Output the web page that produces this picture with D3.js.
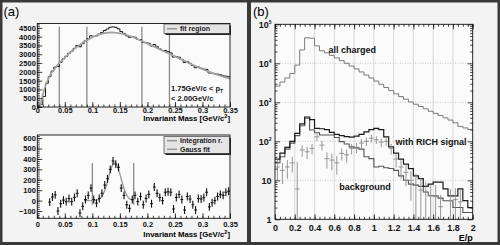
<!DOCTYPE html>
<html>
<head>
<meta charset="utf-8">
<script src="https://cdn.jsdelivr.net/npm/d3@7"></script>
<style>
  body { margin: 0; background: #fff; }
  svg { display: block; font-family: "Liberation Sans", Arial, sans-serif; }
  .tick text { font-weight: bold; fill: #111; }
</style>
</head>
<body>
<div id="container"></div>
<script>
// ---------- (a) invariant mass, 1.75 < pT < 2.00 GeV/c ----------
const massBin = 0.005;
const massTicks = [0, 0.05, 0.1, 0.15, 0.2, 0.25, 0.3, 0.35];
const countTicks = [0, 500, 1000, 1500, 2000, 2500, 3000, 3500, 4000, 4500];
const residTicks = [-100, 0, 100, 200, 300, 400, 500, 600];

// histogram, bins of 0.005 starting at 0
const massHist = [0, 150, 600, 1350, 1730, 2040, 2270, 2300, 2540, 2740,
                  2880, 3055, 3165, 3335, 3500, 3425, 3600, 3765, 3895, 4050,
                  4015, 4045, 4145, 4240, 4355, 4435, 4535, 4560, 4530, 4450,
                  4290, 4185, 4050, 3965, 3995, 3970, 3845, 3825, 3675, 3660,
                  3630, 3470, 3555, 3425, 3310, 3210, 3220, 3150, 3075, 2840,
                  2875, 2830, 2705, 2530, 2585, 2485, 2355, 2235, 2275, 2205,
                  2155, 2140, 1940, 1920, 1885, 1870, 1835, 1775, 1755, 1720];

// background fit, sampled at 0.005 ... 0.35
const massFit = [0, 700, 1220, 1600, 1890, 2120, 2315, 2490, 2655, 2813,
                 2963, 3106, 3242, 3370, 3490, 3602, 3706, 3802, 3890, 3969,
                 4039, 4099, 4149, 4189, 4217, 4233, 4238, 4231, 4213, 4188,
                 4156, 4116, 4068, 4013, 3953, 3888, 3820, 3750, 3678, 3606,
                 3534, 3462, 3390, 3318, 3246, 3174, 3102, 3030, 2955, 2880,
                 2805, 2730, 2655, 2580, 2505, 2430, 2358, 2288, 2220, 2155,
                 2092, 2030, 1970, 1912, 1856, 1802, 1750, 1700, 1652, 1606];
const fitRegion = [0.04, 0.09, 0.19, 0.24];
const fitLineTop = 4560;

// subtracted signal, bins of 0.005 starting at 0.02
const residFirst = 0.02;
const residuals = [-15, 35, 55, -100, -30, 5, -10, 20, -10, 30,
                   70, -120, -55, 10, 50, 120, 10, -25, 20, 70,
                   150, 210, 300, 380, 350, 320, 120, 50, -40, -75,
                   10, 50, -10, 40, -40, 20, 60, -30, 130, 70,
                   30, 0, 80, 85, 80, -80, 30, 60, 10, -90,
                   40, 15, -40, -90, 20, 15, 30, 80, -60, -20,
                   0, 40, 60, 50, 80, 90];
const residErr = 38;
const gaussFirst = 0.085;
const gaussFit = [0, 0, 0, 0, 2, 8, 25, 65, 135, 230, 320, 365, 335, 255, 160, 80, 32, 10, 2];
const intRegion = [0.1, 0.175];
const intLineSpan = [-40, 360];

// ---------- (b) E/p ----------
const epBin = 0.05;
const epTicks = [0, 0.2, 0.4, 0.6, 0.8, 1, 1.2, 1.4, 1.6, 1.8, 2];
const decadeTicks = [1, 10, 100, 1000, 10000, 100000];
const allCharged = [2600, 3300, 4200, 5500, 9000, 22000, 45000, 44000, 28000, 21000,
                    18500, 16000, 13800, 11700, 10000, 8500, 7200, 6000, 5000, 4200,
                    3500, 2900, 2400, 2000, 1650, 1400, 1200, 1020, 890, 780,
                    680, 590, 520, 460, 400, 350, 300, 240, 220, 200];
const richSignal = [35, 50, 70, 100, 160, 280, 420, 360, 215, 210,
                    200, 170, 150, 140, 132, 128, 135, 150, 175, 200,
                    215, 200, 130, 72, 50, 35, 26, 20, 13, 11,
                    7, 8, 9, 9, 6, 4, 4, 6, 3, 2];
const richLow = [28, 40, 63, 90, 140, 250, 390, 195, 165, 145,
                 145, 145, 125, 98, 85, 72, 68, 63, 40, 36,
                 22, 23, 21, 20, 18, 13, 10, 8, 7.5, 7,
                 5, 4, 4, 3.5, 3, 3, 2, 2, 1.5, 1.5];
const background = [22, 18, 22, 28, 6, 60, 54, 66, 130, 80,
                    36, 33, 28, 49, 45, 66, 70, 90, 100, 120,
                    110, 95, 100, 66, 35, 22, 16, 10, 7.6, 5.6,
                    5, 4, 3.8, 2.1, 0, 3, 3.2, 2.8, 0, 0];
const backgroundErr = [12, 10, 11, 12, 24, 20, 19, 20, 28, 22,
                       16, 15, 14, 17, 17, 20, 20, 23, 24, 26,
                       25, 24, 24, 20, 14, 11, 9, 7, 7, 5.6,
                       4, 3.5, 3.8, 2.1, 0, 3, 3, 2.8, 0, 0];

const WIDTH = 500;
const HEIGHT = 245;
const PANEL_BG = '#f3f3f3';
const PLOT_BG = '#fbfbfb';

const svg = d3.select('#container')
              .append('svg')
                .attr('width', WIDTH)
                .attr('height', HEIGHT);

svg.append('rect').attr('width', WIDTH).attr('height', HEIGHT).attr('fill', '#3a3a3a');
svg.append('rect').attr('x', 2.5).attr('y', 2.5).attr('width', 244.5).attr('height', 239.5).attr('fill', PANEL_BG);
svg.append('rect').attr('x', 251).attr('y', 2.5).attr('width', 246.5).attr('height', 239.5).attr('fill', PANEL_BG);

svg.append('text').attr('x', 3.5).attr('y', 16).attr('font-size', 13).text('(a)');
svg.append('text').attr('x', 253).attr('y', 16).attr('font-size', 13).text('(b)');

const fmtMass = d => d === 0 ? '0' : String(+d.toFixed(2));
const noDomain = a => a.select('.domain').remove();

const stepLine = (values, x0, w, xs, ys) => {
    const pts = values.map((v, i) => [x0 + i * w, v]);
    pts.push([x0 + values.length * w, values[values.length - 1]]);
    return d3.line().x(d => xs(d[0])).y(d => ys(d[1])).curve(d3.curveStepAfter)(pts);
};

// ---------- panel (a) ----------
const xMass = d3.scaleLinear().domain([0, 0.35]).range([37.3, 230]);
const yTop = d3.scaleLinear().domain([0, 4750]).range([107, 23.5]);
const yBot = d3.scaleLinear().domain([-170, 630]).range([218.3, 135]);

function massPad(y, yTicks, yMinorStep, labelY, titleY) {
    const g = svg.append('g');
    const [y0, y1] = y.range();
    const [x0, x1] = xMass.range();
    g.append('rect')
       .attr('x', x0).attr('y', y1)
       .attr('width', x1 - x0).attr('height', y0 - y1)
       .attr('fill', PLOT_BG);
    const body = g.append('g');

    const [d0, d1] = y.domain();
    const minor = d3.range(Math.ceil(d0 / yMinorStep) * yMinorStep, d1, yMinorStep);
    const deco = g.append('g');
    deco.append('g')
        .attr('transform', `translate(0,${y0})`)
        .call(d3.axisBottom(xMass).tickValues(d3.range(0, 0.3501, 0.01)).tickSize(-2.5).tickFormat(''))
        .call(noDomain);
    deco.append('g')
        .attr('transform', `translate(0,${y0})`)
        .call(d3.axisBottom(xMass).tickValues(massTicks).tickSize(-5).tickFormat(fmtMass))
        .call(noDomain)
        .call(a => a.selectAll('text').attr('y', labelY - y0).attr('dy', 0).attr('font-size', 7.5));
    deco.append('g')
        .attr('transform', `translate(${x0},0)`)
        .call(d3.axisLeft(y).tickValues(minor).tickSize(-2.5).tickFormat(''))
        .call(noDomain);
    deco.append('g')
        .attr('transform', `translate(${x0},0)`)
        .call(d3.axisLeft(y).tickValues(yTicks).tickSize(-5).tickPadding(1.5).tickFormat(d3.format('d')))
        .call(noDomain)
        .call(a => a.selectAll('text').attr('font-size', 7.5));
    deco.selectAll('.tick line').attr('stroke', '#111').attr('stroke-width', 0.8);
    deco.append('rect')
        .attr('x', x0).attr('y', y1)
        .attr('width', x1 - x0).attr('height', y0 - y1)
        .attr('fill', 'none').attr('stroke', '#111').attr('stroke-width', 0.9);

    const t = deco.append('text')
                  .attr('x', x1).attr('y', titleY)
                  .attr('text-anchor', 'end')
                  .attr('font-size', 7.8).attr('font-weight', 'bold');
    t.append('tspan').text('Invariant Mass [GeV/c');
    t.append('tspan').attr('dy', -2.8).attr('font-size', 5.5).text('2');
    t.append('tspan').attr('dy', 2.8).text(']');
    return { body, deco };
}

function legend(g, x, y, w, h, entries) {
    g.append('rect').attr('x', x + 1.5).attr('y', y + 1.5).attr('width', w).attr('height', h).attr('fill', '#222');
    g.append('rect').attr('x', x).attr('y', y).attr('width', w).attr('height', h)
     .attr('fill', '#e4e4e4').attr('stroke', '#222').attr('stroke-width', 0.6);
    entries.forEach((e, i) => {
        const cy = y + h * (i + 0.5) / entries.length;
        g.append('line').attr('x1', x + 3).attr('x2', x + 13).attr('y1', cy).attr('y2', cy)
         .attr('stroke', '#8c8c8c').attr('stroke-width', 1.3);
        g.append('text').attr('x', x + 16).attr('y', cy + 2.4)
         .attr('font-size', 7).attr('font-weight', 'bold').attr('fill', '#222').text(e);
    });
}

// top: invariant mass with fit
const topPad = massPad(yTop, countTicks, 100, 112.6, 121);

topPad.body.selectAll(null)
   .data(fitRegion)
   .enter()
   .append('line')
     .attr('x1', d => xMass(d)).attr('x2', d => xMass(d))
     .attr('y1', yTop(0)).attr('y2', yTop(fitLineTop))
     .attr('stroke', '#8a8a8a').attr('stroke-width', 1.3);

topPad.body.append('path')
   .attr('d', stepLine(massHist, 0, massBin, xMass, yTop))
   .attr('fill', 'none').attr('stroke', '#111').attr('stroke-width', 1);

topPad.body.append('path')
   .attr('d', d3.line()
                .x((d, i) => xMass(massBin * (i + 1)))
                .y(d => yTop(d))
                .curve(d3.curveMonotoneX)(massFit))
   .attr('fill', 'none').attr('stroke', '#a3a3a3').attr('stroke-width', 1.8);

legend(topPad.deco, 164, 24, 65.5, 9.5, ['fit region']);

const ptText = topPad.deco.append('text').attr('x', 171).attr('y', 91)
                  .attr('font-size', 7.5).attr('font-weight', 'bold').attr('fill', '#111');
ptText.append('tspan').text('1.75GeV/c < p');
ptText.append('tspan').attr('dy', 2).attr('font-size', 5).text('T');
topPad.deco.append('text').attr('x', 171).attr('y', 101)
   .attr('font-size', 7.5).attr('font-weight', 'bold').attr('fill', '#111')
   .text('< 2.00GeV/c');

// bottom: background subtracted
const botPad = massPad(yBot, residTicks, 20, 227.3, 236.8);

botPad.body.selectAll(null)
   .data(intRegion)
   .enter()
   .append('line')
     .attr('x1', d => xMass(d)).attr('x2', d => xMass(d))
     .attr('y1', yBot(intLineSpan[0])).attr('y2', yBot(intLineSpan[1]))
     .attr('stroke', '#8a8a8a').attr('stroke-width', 1.3);

botPad.body.append('path')
   .attr('d', d3.line()
                .x((d, i) => xMass(gaussFirst + massBin * i))
                .y(d => yBot(d))
                .curve(d3.curveMonotoneX)(gaussFit))
   .attr('fill', 'none').attr('stroke', '#9a9a9a').attr('stroke-width', 1.3);

const residPts = residuals.map((v, i) => ({ x: residFirst + massBin * (i + 0.5), v }));
botPad.body.selectAll(null)
   .data(residPts)
   .enter()
   .append('line')
     .attr('x1', d => xMass(d.x)).attr('x2', d => xMass(d.x))
     .attr('y1', d => yBot(d.v - residErr)).attr('y2', d => yBot(d.v + residErr))
     .attr('stroke', '#111').attr('stroke-width', 1.1);
botPad.body.selectAll(null)
   .data(residPts)
   .enter()
   .append('line')
     .attr('x1', d => xMass(d.x - massBin / 2)).attr('x2', d => xMass(d.x + massBin / 2))
     .attr('y1', d => yBot(d.v)).attr('y2', d => yBot(d.v))
     .attr('stroke', '#111').attr('stroke-width', 1.1);

legend(botPad.deco, 164, 136.5, 65.5, 17, ['Integration r.', 'Gauss fit']);

// ---------- panel (b) ----------
const xEp = d3.scaleLinear().domain([0, 2]).range([275, 472.7]);
const yEp = d3.scaleLog().domain([1, 1e5]).range([219.3, 24.3]).clamp(true);
const [bx0, bx1] = xEp.range();
const [by0, by1] = yEp.range();

const pb = svg.append('g');
pb.append('rect')
  .attr('x', bx0).attr('y', by1)
  .attr('width', bx1 - bx0).attr('height', by0 - by1)
  .attr('fill', PLOT_BG);

pb.selectAll(null)
  .data(epTicks.slice(1, -1))
  .enter()
  .append('line')
    .attr('x1', d => xEp(d)).attr('x2', d => xEp(d))
    .attr('y1', by0).attr('y2', by1)
    .attr('stroke', '#cfcfcf').attr('stroke-width', 0.8);
pb.selectAll(null)
  .data(decadeTicks.slice(1, -1))
  .enter()
  .append('line')
    .attr('x1', bx0).attr('x2', bx1)
    .attr('y1', d => yEp(d)).attr('y2', d => yEp(d))
    .attr('stroke', '#bdbdbd').attr('stroke-width', 0.8)
    .attr('stroke-dasharray', '1,1.5');

pb.append('path')
  .attr('d', stepLine(allCharged, 0, epBin, xEp, yEp))
  .attr('fill', 'none').attr('stroke', '#7a7a7a').attr('stroke-width', 1);
pb.append('path')
  .attr('d', stepLine(richLow, 0, epBin, xEp, yEp))
  .attr('fill', 'none').attr('stroke', '#555').attr('stroke-width', 1.1);
pb.append('path')
  .attr('d', stepLine(richSignal, 0, epBin, xEp, yEp))
  .attr('fill', 'none').attr('stroke', '#1a1a1a').attr('stroke-width', 1.2);

const bgPts = background
    .map((v, i) => ({ x: epBin * (i + 0.5), v, e: backgroundErr[i] }))
    .filter(d => d.v > 0);
pb.selectAll(null)
  .data(bgPts)
  .enter()
  .append('line')
    .attr('x1', d => xEp(d.x)).attr('x2', d => xEp(d.x))
    .attr('y1', d => yEp(Math.max(d.v - d.e, 1))).attr('y2', d => yEp(d.v + d.e))
    .attr('stroke', '#8c8c8c').attr('stroke-width', 0.9);
pb.selectAll(null)
  .data(bgPts)
  .enter()
  .append('line')
    .attr('x1', d => xEp(d.x - epBin / 2)).attr('x2', d => xEp(d.x + epBin / 2))
    .attr('y1', d => yEp(d.v)).attr('y2', d => yEp(d.v))
    .attr('stroke', '#8c8c8c').attr('stroke-width', 0.9);

const epMinor = d3.range(0, 2.0001, 0.05);
const logMinor = yEp.ticks().filter(d => !decadeTicks.includes(d));
const axesB = pb.append('g');
axesB.append('g').attr('transform', `translate(0,${by0})`)
     .call(d3.axisBottom(xEp).tickValues(epMinor).tickSize(-2.5).tickFormat('')).call(noDomain);
axesB.append('g').attr('transform', `translate(0,${by0})`)
     .call(d3.axisBottom(xEp).tickValues(epTicks).tickSize(-5).tickPadding(5).tickFormat(d3.format('~g')))
     .call(noDomain)
     .call(a => a.selectAll('text').attr('font-size', 9));
axesB.append('g').attr('transform', `translate(0,${by1})`)
     .call(d3.axisTop(xEp).tickValues(epMinor).tickSize(-2.5).tickFormat('')).call(noDomain);
axesB.append('g').attr('transform', `translate(0,${by1})`)
     .call(d3.axisTop(xEp).tickValues(epTicks).tickSize(-5).tickFormat('')).call(noDomain);
axesB.append('g').attr('transform', `translate(${bx0},0)`)
     .call(d3.axisLeft(yEp).tickValues(logMinor).tickSize(-2.5).tickFormat('')).call(noDomain);
axesB.append('g').attr('transform', `translate(${bx1},0)`)
     .call(d3.axisRight(yEp).tickValues(logMinor).tickSize(-2.5).tickFormat('')).call(noDomain);
axesB.append('g').attr('transform', `translate(${bx1},0)`)
     .call(d3.axisRight(yEp).tickValues(decadeTicks).tickSize(-5).tickFormat('')).call(noDomain);
axesB.append('g').attr('transform', `translate(${bx0},0)`)
     .call(d3.axisLeft(yEp).tickValues(decadeTicks).tickSize(-5).tickPadding(3.5))
     .call(noDomain)
     .call(a => a.selectAll('text').attr('font-size', 9).each(function (d) {
         const t = d3.select(this).text(null);
         const e = Math.round(Math.log10(d));
         if (e < 2) {
             t.text(e === 0 ? '1' : '10');
         } else {
             t.append('tspan').text('10');
             t.append('tspan').attr('dy', -4).attr('font-size', 5).text(e);
         }
     }));
axesB.selectAll('.tick line').attr('stroke', '#111').attr('stroke-width', 0.8);
axesB.append('rect')
     .attr('x', bx0).attr('y', by1)
     .attr('width', bx1 - bx0).attr('height', by0 - by1)
     .attr('fill', 'none').attr('stroke', '#111').attr('stroke-width', 0.9);

axesB.append('text').attr('x', bx1).attr('y', 240.5).attr('text-anchor', 'end')
     .attr('font-size', 9).attr('font-weight', 'bold').text('E/p');

const curveLabels = [
    { text: 'all charged', x: 0.54, v: 18900 },
    { text: 'with RICH signal', x: 1.22, v: 80 },
    { text: 'background', x: 0.65, v: 5.6 }
];
axesB.selectAll(null)
     .data(curveLabels)
     .enter()
     .append('text')
       .attr('x', d => xEp(d.x))
       .attr('y', d => yEp(d.v))
       .attr('font-size', 9).attr('font-weight', 'bold').attr('fill', '#111')
       .text(d => d.text);
</script>
</body>
</html>
